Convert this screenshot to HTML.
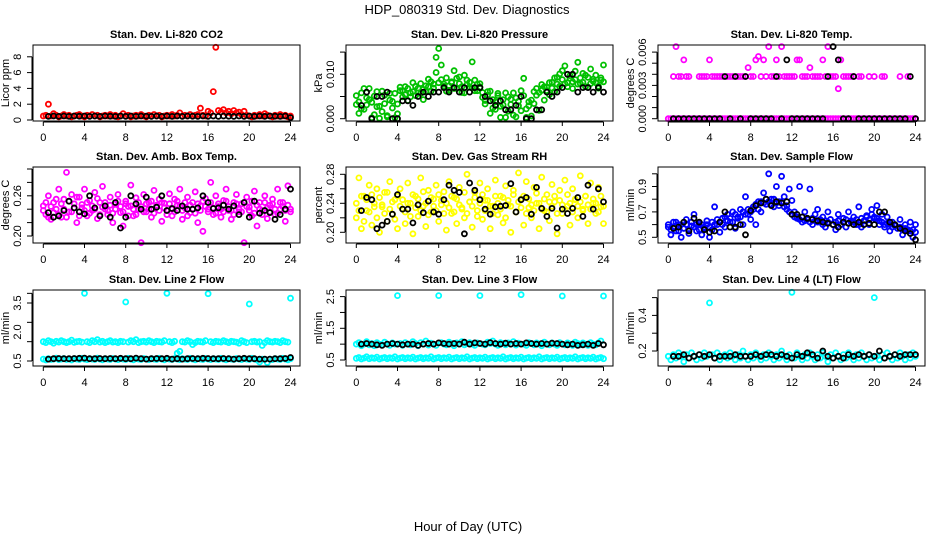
<!DOCTYPE html>
<html><head><meta charset="utf-8"><style>
html,body{margin:0;padding:0;background:#fff;}
svg{display:block;font-family:"Liberation Sans",sans-serif;}
</style></head><body>
<svg id="chart" width="936" height="540" viewBox="0 0 936 540">
<text x="467" y="14" text-anchor="middle" font-size="13">HDP_080319  Std. Dev. Diagnostics</text>
<text x="468" y="531" text-anchor="middle" font-size="13">Hour of Day (UTC)</text>
</svg>
<script>
const xTicks=[0,4,8,12,16,20,24];
const co2Red=[0.5,0.6,2.0,0.5,0.8,0.6,0.4,0.5,0.7,0.5,0.6,0.4,0.5,0.6,0.7,0.5,0.4,0.6,0.5,0.7,0.5,0.6,0.4,0.5,0.6,0.5,0.7,0.5,0.6,0.4,0.5,0.8,0.5,0.6,0.4,0.5,0.6,0.5,0.7,0.5,0.4,0.6,0.5,0.7,0.5,0.6,0.4,0.5,0.6,0.5,0.7,0.5,0.6,0.9,0.5,0.6,0.5,0.7,0.5,0.6,0.7,1.5,0.6,0.5,1.1,0.9,3.6,9.2,1.2,1.0,1.3,0.9,1.1,0.8,1.2,0.9,1.0,0.7,1.1,0.6,0.5,0.4,0.6,0.5,0.7,0.5,0.8,0.6,0.5,0.4,0.6,0.5,0.7,0.5,0.6,0.4,0.5];
const co2Black=[0.45,0.5,0.45,0.5,0.45,0.5,0.48,0.5,0.45,0.5,0.45,0.5,0.48,0.45,0.5,0.45,0.5,0.45,0.5,0.48,0.45,0.5,0.45,0.5,0.45,0.5,0.45,0.5,0.48,0.45,0.5,0.45,0.5,0.45,0.5,0.48,0.45,0.5,0.45,0.5,0.45,0.5,0.45,0.5,0.48,0.45,0.5,0.3];
const presGreen=[0.0032,0.0012,0.0058,0.0021,0.0047,0.0068,0.0037,0.0009,0.0061,0.0028,0.0016,0.0053,0.0007,0.0042,0.0024,0.0057,0.0011,0.0063,0.0049,0.0072,0.0041,0.0058,0.0081,0.0052,0.0069,0.0057,0.0043,0.0074,0.0089,0.0062,0.0078,0.0104,0.0158,0.0121,0.0073,0.0092,0.0064,0.0083,0.0108,0.0068,0.0094,0.0059,0.0098,0.0077,0.0071,0.0128,0.0087,0.0063,0.0079,0.0048,0.0033,0.0061,0.0012,0.0043,0.0021,0.0052,0.0003,0.0031,0.0058,0.0017,0.0044,0.0008,0.0047,0.0029,0.0063,0.0091,0.0022,0.0038,0.0006,0.0034,0.0053,0.0019,0.0064,0.0042,0.0071,0.0054,0.0082,0.0061,0.0093,0.0073,0.0108,0.0119,0.0081,0.0097,0.0068,0.0088,0.0127,0.0079,0.0102,0.0072,0.0093,0.0112,0.0084,0.0098,0.0069,0.0087,0.0121];
const presGreen2=[0.0052,0.0038,0.0023,0.0068,0.0031,0.0043,0.0002,0.0051,0.0027,0.0001,0.0062,0.0034,0.0004,0.0057,0.0039,0.0002,0.0033,0.0071,0.0063,0.0054,0.0068,0.0049,0.0061,0.0073,0.0058,0.0079,0.0066,0.0061,0.0072,0.0083,0.0069,0.0138,0.0081,0.0088,0.0078,0.0062,0.0074,0.0081,0.0068,0.0091,0.0079,0.0072,0.0058,0.0087,0.0082,0.0069,0.0063,0.0078,0.0071,0.0059,0.0041,0.0053,0.0062,0.0024,0.0038,0.0057,0.0028,0.0043,0.0003,0.0049,0.0032,0.0058,0.0004,0.0039,0.0018,0.0052,0.0003,0.0029,0.0042,0.0061,0.0068,0.0059,0.0077,0.0072,0.0063,0.0081,0.0069,0.0092,0.0078,0.0101,0.0088,0.0079,0.0072,0.0091,0.0083,0.0107,0.0078,0.0092,0.0082,0.0098,0.0071,0.0079,0.0089,0.0081,0.0073,0.0092,0.0083];
const presBlack=[0.003,0.006,0.000,0.005,0.005,0.006,0.000,0.000,0.004,0.004,0.003,0.005,0.006,0.005,0.006,0.006,0.007,0.006,0.007,0.006,0.007,0.006,0.007,0.007,0.005,0.004,0.003,0.004,0.002,0.002,0.003,0.005,0.000,0.000,0.002,0.002,0.006,0.005,0.006,0.007,0.010,0.010,0.006,0.007,0.007,0.006,0.007,0.006];
const tempZero=[0,0,0,0,0,0,0,0,0,0,0,0,0,0,0,0,0,0,0,0,0,0,0,0,0,0,0,0,0,0,0,0,0,0,0,0,0,0,0,0,0,0,0,0,0,0,0,0,0,0,0,0,0,0,0,0,0,0,0,0,0,0,0,0,0,0,0,0,0,0,0,0,0,0,0,0,0,0,0,0,0,0,0,0,0,0,0,0,0,0,0,0,0,0,0,0,0];
const tempBand=[null,null,0.0038,0.0065,0.0038,0.0038,0.0053,0.0038,0.0038,null,null,null,0.0038,0.0038,0.0038,0.0038,0.0053,0.0038,0.0038,0.0038,0.0038,0.0038,null,0.0038,0.0038,0.0038,null,0.0038,0.0038,0.0038,0.0038,0.0046,0.0038,0.0038,0.0053,0.0056,0.0038,0.0053,0.0038,0.0065,0.0038,0.0038,0.0053,0.0038,0.0065,0.0038,0.0038,0.0038,0.0038,0.0038,0.0053,0.0053,0.0038,0.0038,0.0038,0.0046,0.0038,0.0038,0.0038,0.0038,0.0053,0.0038,0.0065,0.0038,0.0038,0.0038,0.0027,0.0053,0.0038,0.0038,0.0038,0.0038,0.0038,null,0.0038,0.0038,null,null,0.0038,null,0.0038,null,null,0.0038,0.0038,null,null,null,null,null,0.0038,null,null,0.0038,null,null,null];
const tempBlack=[0,0,0,0,0,0,0,0,0,0,0.0038,0,0.0038,0,0.0038,0,0,0,0,0,0.0038,0,0.0053,0,0,0,0,0,0,0,0.0038,0.0065,0.0053,0,0,0.0038,0,0,0,0,0,0,0,0,0,0,0.0038,0];
const boxMag=[0.245,0.232,0.26,0.225,0.25,0.24,0.27,0.228,0.255,0.295,0.236,0.262,0.248,0.22,0.258,0.242,0.27,0.23,0.253,0.238,0.265,0.226,0.25,0.274,0.24,0.232,0.258,0.22,0.248,0.262,0.235,0.215,0.252,0.244,0.276,0.23,0.257,0.24,0.19,0.262,0.236,0.25,0.228,0.268,0.243,0.255,0.222,0.249,0.238,0.263,0.23,0.255,0.246,0.27,0.225,0.242,0.258,0.235,0.25,0.266,0.22,0.245,0.207,0.256,0.24,0.28,0.232,0.26,0.244,0.228,0.253,0.27,0.238,0.225,0.25,0.262,0.236,0.248,0.19,0.258,0.243,0.23,0.267,0.215,0.25,0.238,0.26,0.226,0.246,0.255,0.232,0.27,0.24,0.25,0.222,0.275,0.236];
const boxMag2=[0.238,0.25,0.228,0.244,0.235,0.255,0.232,0.248,0.24,0.228,0.252,0.236,0.242,0.258,0.23,0.247,0.238,0.25,0.234,0.245,0.24,0.256,0.232,0.243,0.25,0.238,0.246,0.234,0.24,0.252,0.244,0.236,0.248,0.23,0.245,0.24,0.232,0.25,0.244,0.236,0.248,0.24,0.252,0.234,0.246,0.238,0.25,0.242,0.232,0.248,0.24,0.236,0.252,0.244,0.238,0.25,0.23,0.246,0.24,0.234,0.248,0.238,0.252,0.244,0.236,0.25,0.242,0.234,0.248,0.24,0.236,0.252,0.244,0.238,0.232,0.248,0.24,0.236,0.25,0.244,0.238,0.252,0.234,0.246,0.24,0.232,0.25,0.242,0.236,0.248,0.24,0.234,0.25,0.244,0.238,0.246,0.24];
const boxBlack=[0.235,0.228,0.23,0.238,0.252,0.242,0.236,0.233,0.26,0.242,0.23,0.245,0.228,0.25,0.212,0.228,0.26,0.248,0.24,0.258,0.24,0.243,0.26,0.238,0.241,0.238,0.245,0.24,0.24,0.242,0.26,0.25,0.241,0.242,0.246,0.24,0.245,0.232,0.25,0.228,0.252,0.234,0.238,0.235,0.225,0.232,0.24,0.27];
const rhYellow=[0.22,0.275,0.205,0.25,0.23,0.265,0.21,0.24,0.26,0.2,0.235,0.255,0.215,0.27,0.225,0.245,0.205,0.26,0.232,0.212,0.268,0.24,0.198,0.25,0.222,0.275,0.236,0.208,0.258,0.228,0.246,0.265,0.215,0.238,0.256,0.203,0.27,0.226,0.248,0.212,0.262,0.234,0.22,0.28,0.242,0.207,0.255,0.23,0.268,0.218,0.244,0.26,0.205,0.236,0.272,0.224,0.25,0.213,0.264,0.238,0.2,0.258,0.228,0.282,0.246,0.21,0.27,0.234,0.22,0.262,0.24,0.205,0.276,0.23,0.252,0.216,0.266,0.242,0.198,0.258,0.226,0.272,0.236,0.21,0.26,0.245,0.22,0.278,0.232,0.25,0.212,0.268,0.24,0.226,0.262,0.235,0.212];
const rhYellow2=[0.24,0.23,0.25,0.215,0.245,0.228,0.252,0.235,0.22,0.248,0.238,0.226,0.255,0.232,0.242,0.218,0.25,0.236,0.245,0.228,0.24,0.222,0.252,0.234,0.246,0.23,0.256,0.24,0.224,0.248,0.236,0.23,0.252,0.244,0.226,0.24,0.234,0.25,0.228,0.246,0.238,0.232,0.255,0.226,0.242,0.236,0.248,0.222,0.24,0.252,0.23,0.244,0.236,0.226,0.25,0.24,0.232,0.248,0.22,0.244,0.236,0.252,0.228,0.242,0.234,0.25,0.226,0.246,0.238,0.23,0.254,0.24,0.232,0.246,0.228,0.242,0.236,0.25,0.226,0.244,0.238,0.232,0.252,0.24,0.228,0.246,0.236,0.242,0.23,0.25,0.238,0.232,0.246,0.24,0.228,0.25,0.236];
const rhBlack=[0.23,0.248,0.245,0.205,0.21,0.215,0.225,0.252,0.232,0.232,0.213,0.238,0.227,0.243,0.228,0.225,0.245,0.265,0.258,0.255,0.198,0.268,0.258,0.245,0.232,0.225,0.235,0.236,0.237,0.267,0.228,0.245,0.248,0.225,0.262,0.233,0.222,0.233,0.206,0.232,0.226,0.233,0.248,0.222,0.265,0.232,0.26,0.242];
const flowBlue=[0.58,0.52,0.62,0.55,0.6,0.5,0.57,0.64,0.53,0.59,0.68,0.55,0.61,0.52,0.58,0.63,0.5,0.56,0.74,0.6,0.54,0.65,0.58,0.68,0.62,0.7,0.57,0.66,0.72,0.6,0.82,0.68,0.64,0.72,0.6,0.78,0.7,0.85,0.76,1.0,0.8,0.74,0.9,0.78,0.98,0.82,0.75,0.88,0.79,0.7,0.66,0.9,0.62,0.7,0.65,0.88,0.6,0.68,0.72,0.62,0.66,0.58,0.7,0.64,0.6,0.56,0.68,0.6,0.65,0.58,0.7,0.62,0.66,0.6,0.74,0.58,0.63,0.67,0.6,0.72,0.65,0.75,0.6,0.68,0.58,0.66,0.55,0.62,0.6,0.57,0.64,0.52,0.6,0.55,0.62,0.5,0.6];
const flowBlue2=[0.6,0.56,0.58,0.62,0.55,0.6,0.57,0.6,0.56,0.62,0.58,0.6,0.56,0.6,0.57,0.6,0.58,0.62,0.6,0.64,0.62,0.6,0.66,0.63,0.65,0.62,0.68,0.65,0.66,0.7,0.68,0.72,0.7,0.74,0.76,0.72,0.78,0.77,0.8,0.78,0.76,0.8,0.77,0.75,0.78,0.74,0.72,0.7,0.68,0.66,0.65,0.64,0.66,0.63,0.64,0.62,0.65,0.63,0.62,0.64,0.6,0.63,0.62,0.64,0.6,0.62,0.63,0.6,0.62,0.64,0.61,0.63,0.62,0.64,0.6,0.65,0.63,0.66,0.64,0.68,0.66,0.65,0.63,0.62,0.6,0.61,0.6,0.58,0.59,0.57,0.58,0.56,0.57,0.56,0.55,0.56,0.54];
const flowBlack=[0.57,0.58,0.62,0.55,0.65,0.62,0.56,0.54,0.55,0.62,0.7,0.58,0.58,0.6,0.52,0.71,0.75,0.77,0.8,0.75,0.78,0.77,0.78,0.68,0.68,0.66,0.65,0.64,0.63,0.62,0.61,0.6,0.58,0.62,0.61,0.6,0.62,0.6,0.61,0.6,0.7,0.7,0.62,0.6,0.57,0.55,0.53,0.48];
const line2Upper=[1.5,1.45,1.55,1.5,1.42,1.52,1.48,1.55,1.5,1.45,1.5,1.58,1.46,1.5,1.52,1.48,4.0,1.5,1.45,1.55,1.5,1.6,1.48,1.52,1.45,1.5,1.55,1.48,1.5,1.45,1.52,1.5,3.55,1.48,1.55,1.5,1.6,1.45,1.5,1.52,1.48,1.55,1.5,1.45,1.52,1.5,1.48,1.55,4.0,1.5,1.45,1.52,0.9,1.0,1.5,1.48,1.55,1.5,1.35,1.45,1.52,1.5,1.48,1.55,3.98,1.5,1.45,1.52,1.5,1.48,1.55,1.5,1.45,1.52,1.5,1.48,1.42,1.55,1.5,1.45,3.45,1.5,1.52,1.48,1.5,1.3,1.45,1.55,1.5,1.48,1.52,1.5,1.45,1.55,1.5,1.48,3.75];
const line2Lower=[0.6,0.55,0.62,0.58,0.6,0.65,0.57,0.6,0.63,0.58,0.6,0.55,0.62,0.6,0.58,0.64,0.6,0.57,0.62,0.6,0.58,0.65,0.6,0.56,0.62,0.6,0.58,0.63,0.6,0.57,0.62,0.6,0.58,0.64,0.6,0.56,0.62,0.6,0.58,0.63,0.6,0.57,0.62,0.6,0.58,0.64,0.6,0.56,0.62,0.6,0.58,0.63,0.6,0.57,0.62,0.6,0.58,0.64,0.6,0.56,0.62,0.6,0.58,0.63,0.6,0.57,0.62,0.6,0.58,0.64,0.6,0.56,0.62,0.6,0.58,0.63,0.6,0.57,0.62,0.6,0.58,0.64,0.6,0.56,0.45,0.6,0.58,0.42,0.6,0.57,0.62,0.6,0.58,0.64,0.6,0.56,0.62];
const line2Black=[0.6,0.62,0.63,0.62,0.62,0.63,0.64,0.65,0.62,0.62,0.63,0.62,0.63,0.62,0.64,0.62,0.62,0.65,0.62,0.6,0.62,0.63,0.62,0.64,0.6,0.62,0.6,0.62,0.63,0.62,0.64,0.63,0.62,0.62,0.63,0.62,0.6,0.62,0.64,0.62,0.62,0.6,0.6,0.6,0.62,0.62,0.63,0.68];
const line3Upper=[1.0,1.05,0.95,1.0,1.08,0.98,1.02,0.95,1.05,1.0,0.98,1.06,1.0,0.96,1.04,1.0,2.53,1.02,0.96,1.05,1.0,0.98,1.08,1.02,0.95,1.05,1.0,1.1,0.97,1.03,1.0,0.96,2.53,1.05,1.0,0.98,1.06,1.02,0.95,1.04,1.0,1.08,0.98,1.02,1.05,1.0,0.96,1.04,2.53,1.0,0.98,1.06,1.02,1.1,1.0,0.96,1.05,1.02,0.98,1.04,1.0,1.08,0.97,1.03,2.56,1.0,0.96,1.05,1.02,0.98,1.04,1.0,0.95,1.06,1.0,0.98,1.04,1.0,0.96,1.05,2.52,0.98,1.04,1.0,0.96,1.06,1.02,0.98,1.04,1.0,0.96,1.05,1.0,0.98,1.04,1.1,2.52];
const line3Lower=[0.55,0.58,0.53,0.56,0.6,0.54,0.57,0.55,0.59,0.53,0.56,0.58,0.54,0.57,0.55,0.6,0.53,0.56,0.58,0.54,0.57,0.55,0.59,0.53,0.56,0.58,0.54,0.57,0.55,0.6,0.53,0.56,0.58,0.54,0.57,0.55,0.59,0.53,0.56,0.58,0.54,0.57,0.55,0.6,0.53,0.56,0.58,0.54,0.57,0.55,0.59,0.53,0.56,0.58,0.54,0.57,0.55,0.6,0.53,0.56,0.58,0.54,0.57,0.55,0.59,0.53,0.56,0.58,0.54,0.57,0.55,0.6,0.53,0.56,0.58,0.54,0.57,0.55,0.59,0.53,0.56,0.58,0.54,0.57,0.55,0.6,0.53,0.56,0.58,0.54,0.57,0.55,0.59,0.53,0.56,0.58,0.54];
const line3Black=[1.0,1.02,1.0,0.98,0.96,1.0,1.02,1.0,0.98,1.0,1.0,0.96,1.0,1.02,1.0,1.04,1.02,1.0,1.02,1.0,1.06,1.0,1.04,1.02,1.0,1.05,1.02,1.0,1.03,1.0,1.02,1.0,1.04,1.02,1.0,1.02,1.0,1.03,1.02,1.0,0.98,1.0,0.96,0.98,1.0,0.96,1.02,0.98];
const line4Cyan=[0.17,0.15,0.18,0.16,0.19,0.17,0.14,0.18,0.16,0.19,0.17,0.15,0.18,0.16,0.19,0.17,0.47,0.18,0.16,0.19,0.15,0.17,0.18,0.16,0.19,0.17,0.15,0.18,0.16,0.2,0.17,0.15,0.18,0.16,0.19,0.17,0.15,0.18,0.16,0.19,0.17,0.15,0.18,0.16,0.2,0.17,0.15,0.18,0.53,0.16,0.19,0.17,0.15,0.18,0.16,0.19,0.17,0.15,0.18,0.16,0.19,0.17,0.14,0.18,0.16,0.19,0.17,0.15,0.18,0.16,0.19,0.17,0.15,0.18,0.16,0.19,0.17,0.15,0.18,0.16,0.5,0.17,0.15,0.18,0.16,0.19,0.17,0.15,0.18,0.16,0.19,0.17,0.15,0.18,0.16,0.19,0.17];
const line4Black=[0.17,0.17,0.18,0.16,0.17,0.18,0.17,0.18,0.16,0.17,0.17,0.17,0.18,0.17,0.17,0.17,0.18,0.17,0.18,0.18,0.17,0.18,0.17,0.16,0.18,0.17,0.19,0.18,0.16,0.2,0.17,0.16,0.17,0.16,0.18,0.17,0.18,0.17,0.18,0.17,0.2,0.16,0.17,0.18,0.17,0.18,0.18,0.18];

const panels=[
 {name:'co2',title:'Stan. Dev. Li-820 CO2',ylab:'Licor ppm',col:0,row:0,y0:0,yp0:120,ppu:7.9,ticks:[0,2,4,6,8],labels:[[0,'0'],[2,'2'],[4,'4'],[6,'6'],[8,'8']],series:[[co2Red,'#ff0000'],[co2Black,'#000']]},
 {name:'pressure',title:'Stan. Dev. Li-820 Pressure',ylab:'kPa',col:1,row:0,y0:0,yp0:118.7,ppu:4440,ticks:[0,0.005,0.010,0.015],labels:[[0,'0.000'],[0.010,'0.010']],series:[[presGreen,'#00c000'],[presGreen2,'#00c000'],[presBlack,'#000']]},
 {name:'li820-temp',title:'Stan. Dev. Li-820 Temp.',ylab:'degrees C',col:2,row:0,y0:0,yp0:118.7,ppu:11100,ticks:[0,0.001,0.002,0.003,0.004,0.005,0.006],labels:[[0,'0.000'],[0.003,'0.003'],[0.006,'0.006']],series:[[tempZero,'#ff00ff'],[tempBand,'#ff00ff'],[tempBlack,'#000']]},
 {name:'box-temp',title:'Stan. Dev. Amb. Box Temp.',ylab:'degrees C',col:0,row:1,y0:0.20,yp0:236,ppu:670,ticks:[0.20,0.22,0.24,0.26,0.28,0.30],labels:[[0.20,'0.20'],[0.26,'0.26']],series:[[boxMag,'#ff00ff'],[boxMag2,'#ff00ff'],[boxBlack,'#000']]},
 {name:'gas-rh',title:'Stan. Dev. Gas Stream RH',ylab:'percent',col:1,row:1,y0:0.20,yp0:232.3,ppu:725,ticks:[0.20,0.22,0.24,0.26,0.28],labels:[[0.20,'0.20'],[0.24,'0.24'],[0.28,'0.28']],series:[[rhYellow,'#ffff00'],[rhYellow2,'#ffff00'],[rhBlack,'#000']]},
 {name:'sample-flow',title:'Stan. Dev. Sample Flow',ylab:'ml/min',col:2,row:1,y0:0.5,yp0:237.3,ppu:127,ticks:[0.5,0.6,0.7,0.8,0.9,1.0],labels:[[0.5,'0.5'],[0.7,'0.7'],[0.9,'0.9']],series:[[flowBlue,'#0000ff'],[flowBlue2,'#0000ff'],[flowBlack,'#000']]},
 {name:'line2-flow',title:'Stan. Dev. Line 2 Flow',ylab:'ml/min',col:0,row:2,y0:0.5,yp0:361,ppu:19.33,ticks:[0.5,1.5,2.5,3.5,4.0],labels:[[0.5,'0.5'],[2.0,'2.0'],[3.5,'3.5']],series:[[line2Upper,'#00ffff'],[line2Lower,'#00ffff'],[line2Black,'#000']]},
 {name:'line3-flow',title:'Stan. Dev. Line 3 Flow',ylab:'ml/min',col:1,row:2,y0:0.5,yp0:360,ppu:31.7,ticks:[0.5,1.0,1.5,2.0,2.5],labels:[[0.5,'0.5'],[1.5,'1.5'],[2.5,'2.5']],series:[[line3Upper,'#00ffff'],[line3Lower,'#00ffff'],[line3Black,'#000']]},
 {name:'line4-flow',title:'Stan. Dev. Line 4 (LT) Flow',ylab:'ml/min',col:2,row:2,y0:0.2,yp0:351,ppu:178,ticks:[0.2,0.3,0.4,0.5],labels:[[0.2,'0.2'],[0.4,'0.4']],series:[[line4Cyan,'#00ffff'],[line4Black,'#000']]}
];
const colX=[33,346,658], colW=267, rowY=[45,167,290], rowH=76;
const NS='http://www.w3.org/2000/svg';
const svg=document.getElementById('chart');
function mk(tag,attrs,parent){const e=document.createElementNS(NS,tag);for(const k in attrs)e.setAttribute(k,attrs[k]);parent.appendChild(e);return e;}
panels.forEach(p=>{
  const bx=colX[p.col], by=rowY[p.row];
  const xs=h=>bx+10.3+h*(247.2/24);
  const ys=v=>p.yp0-(v-p.y0)*p.ppu;
  const g=mk('g',{},svg);
  
  
  const t=mk('text',{x:bx+colW/2,y:by-7,'text-anchor':'middle','font-size':'11','font-weight':'bold'},g);
  t.textContent=p.title;
  
  
  const pts=mk('g',{fill:'none','stroke-width':'1.8'},g);
  
  
  p.series.forEach(([arr,col])=>{
    const n=arr.length;
    const start=(col==='#000')?0.5:0;
    const step=(24-start)/(n-1);
    arr.forEach((v,i)=>{
      if(v===null)return;
      const c=mk('circle',{cx:xs(start+i*step).toFixed(1),cy:ys(v).toFixed(1),r:'2.5',stroke:col},pts);
      
      
    });
  });
  const box=mk('rect',{x:bx,y:by,width:colW,height:rowH,fill:'none',stroke:'#000','stroke-width':'1'},g);
  
  
  const xa=mk('g',{stroke:'#000','stroke-width':'1'},g);
  
  
  mk('line',{x1:xs(0),x2:xs(24),y1:by+rowH+1,y2:by+rowH+1},xa);
  xTicks.forEach(h=>{
    mk('line',{x1:xs(h),x2:xs(h),y1:by+rowH+1,y2:by+rowH+5},xa);
    const tl=mk('text',{x:xs(h),y:by+rowH+20,'text-anchor':'middle','font-size':'11',stroke:'none'},xa);
    tl.textContent=h;
    
    
  });
  const ya=mk('g',{stroke:'#000','stroke-width':'1'},g);
  
  
  const tk=p.ticks;
  mk('line',{x1:bx-1,x2:bx-1,y1:ys(tk[0]),y2:ys(tk[tk.length-1])},ya);
  tk.forEach(v=>mk('line',{x1:bx-6,x2:bx-1,y1:ys(v),y2:ys(v)},ya));
  p.labels.forEach(([v,s])=>{
    const tx=bx-12, ty=ys(v);
    const tl=mk('text',{x:tx,y:ty,'text-anchor':'middle','font-size':'11',stroke:'none',transform:`rotate(-90 ${tx} ${ty})`},ya);
    tl.textContent=s;
    
    
  });
  const lx=bx-24, ly=by+rowH/2;
  const yl=mk('text',{x:lx,y:ly,'text-anchor':'middle','font-size':'11',transform:`rotate(-90 ${lx} ${ly})`},g);
  yl.textContent=p.ylab;
  
  
});
</script>
</body></html>
